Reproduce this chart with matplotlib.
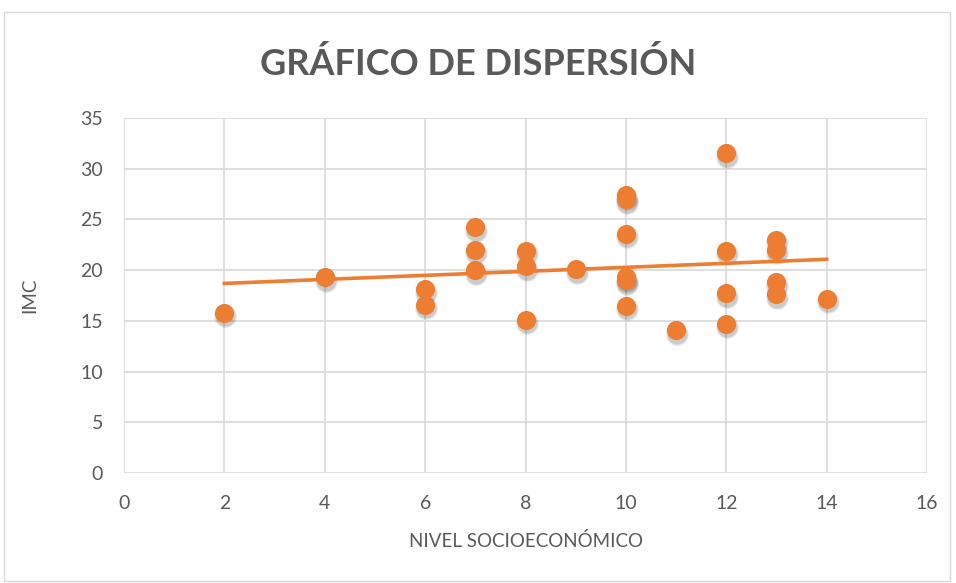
import matplotlib
matplotlib.use("Agg")
import matplotlib.pyplot as plt
import numpy as np
from matplotlib.patches import Rectangle

nivel = [2, 4, 6, 6, 7, 7, 7, 8, 8, 8, 9, 10, 10, 10, 10, 10, 10, 11, 12, 12, 12, 12, 13, 13, 13, 13, 14]
imc = [15.8, 19.3, 18.1, 16.6, 24.2, 22.0, 20.0, 21.9, 20.4, 15.1, 20.1, 27.4, 27.0, 23.6, 19.3, 19.0, 16.5,
       14.1, 31.5, 21.9, 17.7, 14.7, 23.0, 22.0, 18.8, 17.6, 17.2]
xticks = [0, 2, 4, 6, 8, 10, 12, 14, 16]
yticks = [0, 5, 10, 15, 20, 25, 30, 35]

plt.rcParams['font.family'] = ['Lato', 'DejaVu Sans']
gray = '#595959'
orange = '#ED7D31'

fig = plt.figure(figsize=(9.56, 5.83), dpi=100)
fig.patches.append(Rectangle((0.004, 0.004), 0.99, 0.975, transform=fig.transFigure,
                             fill=False, edgecolor='#d9d9d9', linewidth=1))
ax = fig.add_axes([0.1297, 0.1887, 0.84, 0.609])

x = np.array(nivel, dtype=float)
y = np.array(imc, dtype=float)
# soft shadow
for s_, a_ in [(280, 0.05), (240, 0.07), (205, 0.09)]:
    ax.scatter(x + 0.02, y - 0.35, s=s_, color='#000000', alpha=a_, linewidths=0, zorder=2)
ax.scatter(x, y, s=190, color=orange, linewidths=0, zorder=3)

m, b = np.polyfit(x, y, 1)
xs = np.array([x.min(), x.max()])
ax.plot(xs, m * xs + b, color=orange, linewidth=2.6, zorder=4)

ax.set_xlim(0, 16)
ax.set_ylim(0, 35)
ax.set_xticks(xticks)
ax.set_yticks(yticks)
ax.grid(True, color='#d9d9d9', linewidth=1.2)
ax.set_axisbelow(True)
for s in ax.spines.values():
    s.set_visible(False)
ax.tick_params(length=0, labelsize=14, colors=gray)
ax.tick_params(axis='x', pad=16)
ax.tick_params(axis='y', pad=15)

ax.set_xlabel('NIVEL SOCIOECONÓMICO', fontsize=13.5, color=gray, labelpad=14)
ax.set_ylabel('IMC', fontsize=13.5, color=gray, labelpad=30)
fig.text(0.5, 0.89, 'GRÁFICO DE DISPERSIÓN', ha='center', va='center',
         fontsize=26, fontweight='bold', color=gray)

fig.savefig('out.png', dpi=100)
